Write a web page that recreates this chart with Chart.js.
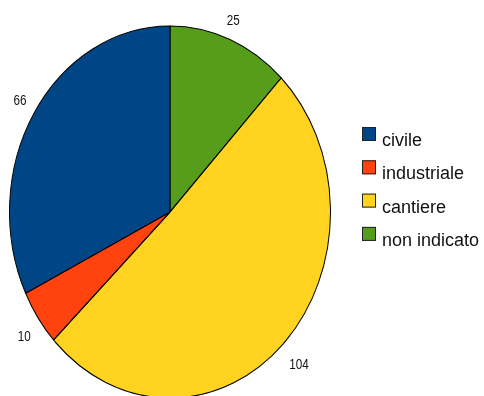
<!DOCTYPE html>
<html>
<head>
<meta charset="utf-8">
<script src="https://cdn.jsdelivr.net/npm/chart.js@4"></script>
<style>
  html, body { margin: 0; padding: 0; background: #fff; }
  #pie { display: block; }
</style>
</head>
<body>
<canvas id="pie" width="484" height="396"></canvas>
<script>
// categories in legend order
const categories = ["civile", "industriale", "cantiere", "non indicato"];
const counts = [66, 10, 104, 25];
const colors = ["#004586", "#ff420e", "#ffd320", "#579d1c"];

// slices run clockwise from 12 o'clock in reverse legend order
const sliceOrder = [3, 2, 1, 0];

const FONT = '"Liberation Sans", Arial, sans-serif';
const STRETCH_Y = 1.159; // pie is drawn as an ellipse

const ellipsePie = {
  id: "ellipsePie",
  beforeDatasetsDraw(chart) {
    const arc = chart.getDatasetMeta(0).data[0];
    const ctx = chart.ctx;
    ctx.save();
    ctx.translate(arc.x, arc.y);
    ctx.scale(1, STRETCH_Y);
    ctx.translate(-arc.x, -arc.y);
  },
  afterDatasetsDraw(chart) {
    chart.ctx.restore();
  },
};

// value next to each slice, anchored by the corner facing the pie,
// set in a condensed face (regular face squeezed horizontally)
const valueLabels = {
  id: "valueLabels",
  afterDraw(chart) {
    const ctx = chart.ctx;
    const ds = chart.data.datasets[0];
    chart.getDatasetMeta(0).data.forEach((arc, i) => {
      const mid = (arc.startAngle + arc.endAngle) / 2;
      const dx = Math.cos(mid);
      const dy = Math.sin(mid);
      const x = arc.x + dx * arc.outerRadius * 1.055;
      const y = arc.y + dy * arc.outerRadius * STRETCH_Y * 1.085;
      ctx.save();
      ctx.translate(x, dy < 0 ? y : y + 14);
      ctx.scale(0.78, 1);
      ctx.font = "15px " + FONT;
      ctx.fillStyle = "#111";
      ctx.textBaseline = "alphabetic";
      ctx.textAlign = dx > 0.5 ? "left" : dx < -0.5 ? "right" : "center";
      ctx.fillText(String(ds.data[i]), 0, 0);
      ctx.restore();
    });
  },
};

const sideLegend = {
  id: "sideLegend",
  afterDraw(chart) {
    const ctx = chart.ctx;
    ctx.save();
    ctx.font = "18px " + FONT;
    ctx.textBaseline = "alphabetic";
    ctx.textAlign = "left";
    categories.forEach((name, i) => {
      const top = 127 + i * 33.3;
      ctx.fillStyle = colors[i];
      ctx.fillRect(362, top, 14, 14);
      ctx.strokeStyle = "#222";
      ctx.lineWidth = 1;
      ctx.strokeRect(362.5, top + 0.5, 13, 13);
      ctx.fillStyle = "#111";
      ctx.fillText(name, 382, top + 19);
    });
    ctx.restore();
  },
};

new Chart(document.getElementById("pie"), {
  type: "pie",
  data: {
    labels: sliceOrder.map((i) => categories[i]),
    datasets: [
      {
        data: sliceOrder.map((i) => counts[i]),
        backgroundColor: sliceOrder.map((i) => colors[i]),
        borderColor: "#000",
        borderWidth: 1,
      },
    ],
  },
  options: {
    responsive: false,
    devicePixelRatio: 1,
    animation: false,
    events: [],
    layout: { padding: { left: 9, right: 153, top: 51, bottom: 23 } },
    plugins: {
      legend: { display: false },
      tooltip: { enabled: false },
    },
  },
  plugins: [ellipsePie, valueLabels, sideLegend],
});
</script>
</body>
</html>
